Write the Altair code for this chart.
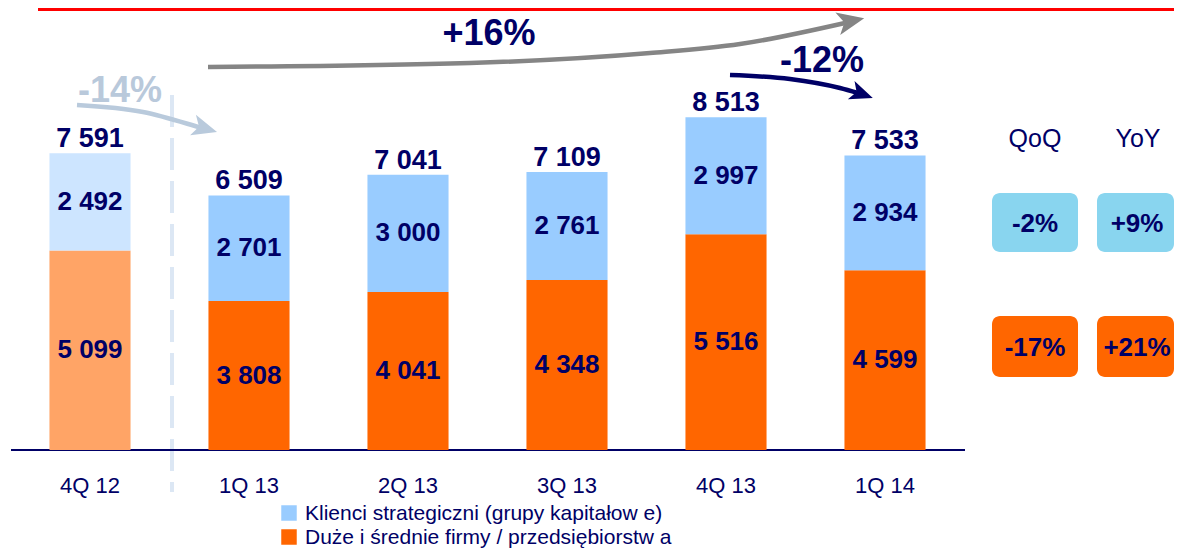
import altair as alt
import pandas as pd

# ---------------- data ----------------
quarters = ["4Q 12", "1Q 13", "2Q 13", "3Q 13", "4Q 13", "1Q 14"]
strategic = [2492, 2701, 3000, 2761, 2997, 2934]
large_mid = [5099, 3808, 4041, 4348, 5516, 4599]
totals = [7591, 6509, 7041, 7109, 8513, 7533]
series_names = ["Klienci strategiczni (grupy kapitałow e)",
                "Duże i średnie firmy / przedsiębiorstw a"]
qoq_labels = ["-2%", "-17%"]
yoy_labels = ["+9%", "+21%"]
change_labels = ["+16%", "-12%", "-14%"]
hatched_quarter = "4Q 12"

NAVY = "#000066"
FONT = "Liberation Sans"
W, H = 1166, 542


def fmt(v):
    return f"{v:,}".replace(",", " ")


rows = []
for q, s, l in zip(quarters, strategic, large_mid):
    h = "_h" if q == hatched_quarter else ""
    rows.append({"cat": q, "key": "large" + h, "y0": 0, "y1": l,
                 "mid": l / 2, "label": fmt(l)})
    rows.append({"cat": q, "key": "strat" + h, "y0": l, "y1": l + s,
                 "mid": l + s / 2, "label": fmt(s)})
seg = pd.DataFrame(rows)
tot = pd.DataFrame({"cat": quarters, "total": totals,
                    "label": [fmt(t) for t in totals]})
cats = pd.DataFrame({"cat": quarters})

xs = alt.Scale(domain=quarters, range=[2.5, 956.5], paddingInner=0.49, paddingOuter=0.245)
ys = alt.Scale(domain=[-2558, 11304], nice=False, zero=False)
X = alt.X("cat:N", scale=xs, axis=None, sort=quarters)

bars = alt.Chart(seg).mark_bar().encode(
    x=X,
    y=alt.Y("y0:Q", scale=ys, axis=None),
    y2="y1:Q",
    color=alt.Color("key:N", legend=None,
                    scale=alt.Scale(domain=["strat", "large", "strat_h", "large_h"],
                                    range=["#99CCFF", "#FF6600", "#CDE5FF", "#FFA466"])),
)
seg_text = alt.Chart(seg).mark_text(font=FONT, fontSize=26, fontWeight="bold",
                                    color=NAVY, baseline="middle", dy=0).encode(
    x=X, y=alt.Y("mid:Q", scale=ys, axis=None), text="label:N")
tot_text = alt.Chart(tot).mark_text(font=FONT, fontSize=27, fontWeight="bold",
                                    color=NAVY, baseline="alphabetic", dy=-6).encode(
    x=X, y=alt.Y("total:Q", scale=ys, axis=None), text="label:N")
cat_text = alt.Chart(cats).mark_text(font=FONT, fontSize=22, color=NAVY,
                                     baseline="alphabetic").encode(
    x=X, y=alt.value(485), text="cat:N")

main = alt.layer(bars, seg_text, tot_text, cat_text)

# ---------------- annotations ----------------
one = pd.DataFrame({"k": [0]})


def vrule(x, x2, y, y2, color, width, dash=None):
    kw = dict(color=color, strokeWidth=width)
    if dash:
        kw["strokeDash"] = dash
    enc = dict(x=alt.value(x), y=alt.value(y))
    if x2 is not None:
        enc["x2"] = alt.value(x2)
    if y2 is not None:
        enc["y2"] = alt.value(y2)
    return alt.Chart(one).mark_rule(**kw).encode(**enc)


def label(txt, x, y, size, color=NAVY, bold=True, baseline="alphabetic"):
    return alt.Chart(one).mark_text(text=txt, font=FONT, fontSize=size,
                                    fontWeight="bold" if bold else "normal",
                                    color=color, baseline=baseline, align="center").encode(
        x=alt.value(x), y=alt.value(y))


def box(x, x2, y, y2, color):
    return alt.Chart(one).mark_rect(color=color, cornerRadius=8).encode(
        x=alt.value(x), x2=alt.value(x2), y=alt.value(y), y2=alt.value(y2))


red_line = vrule(30, 1168, 1.5, None, "#FF0000", 3)
axis_line = vrule(3, 957, 442, None, NAVY, 2)
dash_line = vrule(164, None, 87, 484, "#DCE7F4", 4, [32, 11])

# curved arrows in pixel coordinates
curves = pd.DataFrame({
    "arrow": ["g"] * 5 + ["l"] * 4 + ["n"] * 4,
    "px": [200, 462, 642, 732, 837, 69, 135, 187, 197, 722, 782, 832, 850],
    "py": [59, 55, 45, 36, 15, 97, 104, 118, 121, 67, 71, 80, 85],
    "ord": [0, 1, 2, 3, 4, 0, 1, 2, 3, 0, 1, 2, 3],
})
heads = pd.DataFrame({
    "arrow": ["g", "l", "n"],
    "px": [843, 197, 854],
    "py": [13, 120.5, 86],
})
px = alt.X("px:Q", scale=alt.Scale(domain=[0, W], nice=False, zero=False), axis=None)
py = alt.Y("py:Q", scale=alt.Scale(domain=[H, 0], nice=False, zero=False), axis=None)
arrow_colors = alt.Scale(domain=["g", "l", "n"], range=["#858585", "#B9CADC", NAVY])

curve_lines = alt.Chart(curves).mark_line(interpolate="monotone", strokeWidth=4.5,
                                          strokeCap="butt").encode(
    x=px, y=py, order="ord:Q", detail="arrow:N",
    color=alt.Color("arrow:N", scale=arrow_colors, legend=None))

head_shape = "M1,0 L-1,-0.85 L-0.5,0 L-1,0.85 Z"
head_layers = []
for a, ang, sz in [("g", 348, 729), ("l", 16, 625), ("n", 20, 529)]:
    head_layers.append(
        alt.Chart(heads[heads.arrow == a]).mark_point(
            shape=head_shape, filled=True, opacity=1, size=sz, angle=ang,
            strokeWidth=0).encode(
            x=px, y=py, color=alt.Color("arrow:N", scale=arrow_colors, legend=None)))

annot = alt.layer(curve_lines, *head_layers)

texts = [
    label(change_labels[0], 481, 37, 36),
    label(change_labels[1], 814, 64, 36),
    label(change_labels[2], 112, 94, 36, color="#B9C9DB"),
    label("QoQ", 1027, 139, 25, bold=False),
    label("YoY", 1130, 139, 25, bold=False),
]
boxes = [
    box(984, 1070, 185, 244, "#89D5EF"),
    box(1089, 1166, 185, 244, "#89D5EF"),
    box(984, 1070, 308, 369, "#FF6600"),
    box(1089, 1166, 308, 369, "#FF6600"),
    label(qoq_labels[0], 1027, 216, 26, baseline="middle"),
    label(yoy_labels[0], 1129, 216, 26, baseline="middle"),
    label(qoq_labels[1], 1027, 340, 26, baseline="middle"),
    label(yoy_labels[1], 1129, 340, 26, baseline="middle"),
]

legend_items = [
    alt.Chart(one).mark_square(color="#99CCFF", size=240, opacity=1).encode(
        x=alt.value(281), y=alt.value(505)),
    alt.Chart(one).mark_square(color="#FF6600", size=240, opacity=1).encode(
        x=alt.value(281), y=alt.value(529)),
    alt.Chart(one).mark_text(text=series_names[0], font=FONT, fontSize=21, color=NAVY,
                             align="left", baseline="alphabetic").encode(
        x=alt.value(297), y=alt.value(512)),
    alt.Chart(one).mark_text(text=series_names[1], font=FONT, fontSize=21, color=NAVY,
                             align="left", baseline="alphabetic").encode(
        x=alt.value(297), y=alt.value(536)),
]

decor = alt.layer(red_line, dash_line, axis_line, *texts, *boxes, *legend_items)

chart = alt.layer(decor, main, annot).resolve_scale(
    x="independent", y="independent", color="independent"
).properties(
    width=W, height=H, padding=0, autosize=alt.AutoSizeParams(type="none")
).configure_view(stroke=None)

chart.save("out.html", embed_options={"renderer": "svg", "actions": False})
